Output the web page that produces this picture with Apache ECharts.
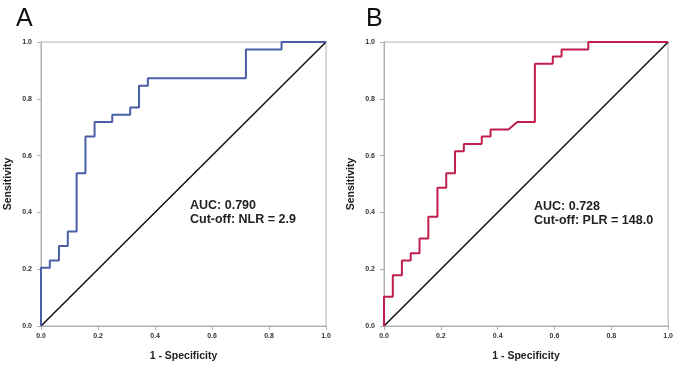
<!DOCTYPE html>
<html>
<head>
<meta charset="utf-8">
<script src="https://cdn.jsdelivr.net/npm/echarts@6/dist/echarts.min.js"></script>
<style>
  html, body { margin: 0; padding: 0; background: #fff; }
  #chart { width: 676px; height: 367px; }
</style>
</head>
<body>
<div id="chart"></div>
<script>
// ROC curve A (NLR): corner points
const rocA_fpr = [0, 0, 0.031, 0.031, 0.063, 0.063, 0.094, 0.094, 0.125, 0.125, 0.156, 0.156, 0.188, 0.188, 0.25, 0.25, 0.313, 0.313, 0.344, 0.344, 0.375, 0.375, 0.719, 0.719, 0.844, 0.844, 1];
const rocA_tpr = [0, 0.205, 0.205, 0.231, 0.231, 0.282, 0.282, 0.333, 0.333, 0.538, 0.538, 0.667, 0.667, 0.718, 0.718, 0.744, 0.744, 0.769, 0.769, 0.846, 0.846, 0.872, 0.872, 0.974, 0.974, 1, 1];

// ROC curve B (PLR)
const rocB_fpr = [0, 0, 0.031, 0.031, 0.063, 0.063, 0.094, 0.094, 0.125, 0.125, 0.156, 0.156, 0.188, 0.188, 0.219, 0.219, 0.25, 0.25, 0.281, 0.281, 0.344, 0.344, 0.375, 0.375, 0.438, 0.469, 0.531, 0.531, 0.594, 0.594, 0.625, 0.625, 0.719, 0.719, 1];
const rocB_tpr = [0, 0.103, 0.103, 0.179, 0.179, 0.231, 0.231, 0.256, 0.256, 0.308, 0.308, 0.385, 0.385, 0.487, 0.487, 0.538, 0.538, 0.615, 0.615, 0.641, 0.641, 0.667, 0.667, 0.692, 0.692, 0.718, 0.718, 0.923, 0.923, 0.949, 0.949, 0.974, 0.974, 1, 1];

const refLine = [[0, 0], [1, 1]];
const panelLabels = ["A", "B"];
const annotations = [
  ["AUC: 0.790", "Cut-off: NLR = 2.9"],
  ["AUC: 0.728", "Cut-off: PLR = 148.0"]
];

const zip = (xs, ys) => xs.map((x, i) => [x, ys[i]]);

const chart = echarts.init(document.getElementById("chart"), null, { renderer: "canvas" });

const font = "Liberation Sans, Arial, sans-serif";

function xAxisFor(idx) {
  return {
    gridIndex: idx,
    type: "value",
    min: 0,
    max: 1,
    interval: 0.2,
    name: "1 - Specificity",
    nameLocation: "middle",
    nameGap: 25,
    nameTextStyle: { fontFamily: font, fontWeight: "bold", fontSize: 10.5, color: "#222" },
    axisLine: { show: true, lineStyle: { color: "#b0b0b0", width: 1 } },
    axisTick: { show: true, length: 4, lineStyle: { color: "#b0b0b0" } },
    axisLabel: {
      fontFamily: font, fontWeight: "bold", fontSize: 7, color: "#333", margin: 7,
      formatter: v => v.toFixed(1)
    },
    splitLine: { show: false }
  };
}

function yAxisFor(idx) {
  return {
    gridIndex: idx,
    type: "value",
    min: 0,
    max: 1,
    interval: 0.2,
    name: "Sensitivity",
    nameLocation: "middle",
    nameGap: 27,
    nameTextStyle: { fontFamily: font, fontWeight: "bold", fontSize: 10.5, color: "#222" },
    axisLine: { show: true, lineStyle: { color: "#b0b0b0", width: 1 } },
    axisTick: { show: true, length: 4, lineStyle: { color: "#b0b0b0" } },
    axisLabel: {
      fontFamily: font, fontWeight: "bold", fontSize: 7, color: "#333", margin: 9,
      formatter: v => v.toFixed(1)
    },
    splitLine: { show: false }
  };
}

const option = {
  backgroundColor: "#fff",
  animation: false,
  title: [
    { text: panelLabels[0], left: 11, top: 2, textStyle: { fontFamily: font, fontSize: 25, fontWeight: "normal", color: "#111" } },
    { text: panelLabels[1], left: 361, top: 2, textStyle: { fontFamily: font, fontSize: 25, fontWeight: "normal", color: "#111" } }
  ],
  grid: [
    { left: 41, top: 42, width: 285, height: 285, show: true, borderColor: "#b0b0b0", borderWidth: 1 },
    { left: 384, top: 42, width: 285, height: 284, show: true, borderColor: "#b0b0b0", borderWidth: 1 }
  ],
  xAxis: [xAxisFor(0), xAxisFor(1)],
  yAxis: [yAxisFor(0), yAxisFor(1)],
  series: [
    {
      type: "line", xAxisIndex: 0, yAxisIndex: 0,
      data: refLine, symbol: "none",
      lineStyle: { color: "#111", width: 1.5 }
    },
    {
      type: "line", xAxisIndex: 0, yAxisIndex: 0,
      data: zip(rocA_fpr, rocA_tpr), symbol: "none",
      lineStyle: { color: "#4a5fa8", width: 2 }
    },
    {
      type: "line", xAxisIndex: 1, yAxisIndex: 1,
      data: refLine, symbol: "none",
      lineStyle: { color: "#111", width: 1.5 }
    },
    {
      type: "line", xAxisIndex: 1, yAxisIndex: 1,
      data: zip(rocB_fpr, rocB_tpr), symbol: "none",
      lineStyle: { color: "#c21e4c", width: 2 }
    }
  ],
  graphic: [
    {
      type: "text", left: 190, top: 199,
      style: { text: annotations[0].join("\n"), font: "bold 12.5px " + font, fill: "#222", lineHeight: 14 }
    },
    {
      type: "text", left: 534, top: 200,
      style: { text: annotations[1].join("\n"), font: "bold 12.5px " + font, fill: "#222", lineHeight: 14 }
    }
  ]
};

chart.setOption(option);
</script>
</body>
</html>
